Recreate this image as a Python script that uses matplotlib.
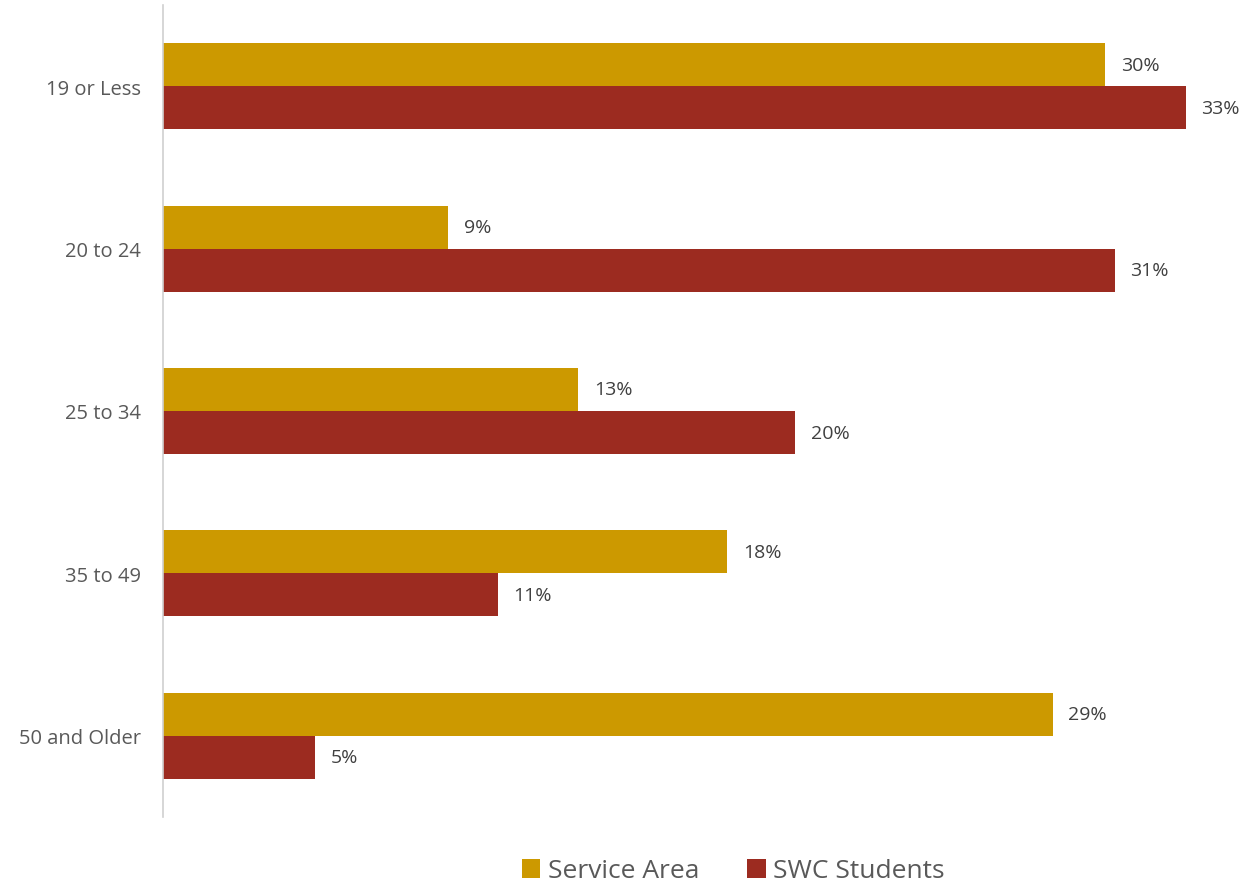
import numpy as np
import matplotlib
matplotlib.use('Agg')
from matplotlib import pyplot as plt

plt.rcParams['font.family'] = ['Open Sans', 'DejaVu Sans']

categories = ['19 or Less', '20 to 24', '25 to 34', '35 to 49', '50 and Older']
service_area = [30.4, 9.2, 13.4, 18.2, 28.7]
swc_students = [33.0, 30.7, 20.4, 10.8, 4.9]
series_names = ['Service Area', 'SWC Students']
colors = ['#CC9900', '#9C2B20']

fig = plt.figure(figsize=(12.43, 8.87), dpi=100)
ax = fig.add_axes([163/1243, 1-818/887, (1235-163)/1243, 812/887])

y = np.arange(len(categories))
h = 0.265
bars1 = ax.barh(y - h/2, service_area, height=h, color=colors[0], label=series_names[0])
bars2 = ax.barh(y + h/2, swc_students, height=h, color=colors[1], label=series_names[1])

for bars, vals in [(bars1, service_area), (bars2, swc_students)]:
    for b, v in zip(bars, vals):
        ax.text(v + 0.5, b.get_y() + b.get_height()/2, '%d%%' % round(v),
                va='center', ha='left', fontsize=14, color='#404040')

ax.set_ylim(4.5, -0.5)
ax.set_xlim(0, (1235-163)/31)
ax.set_yticks(y)
ax.set_yticklabels(categories, fontsize=14.5, color='#595959')
ax.tick_params(axis='y', length=0, pad=16)
ax.set_xticks([])
for s in ['top', 'right', 'bottom']:
    ax.spines[s].set_visible(False)
ax.spines['left'].set_color('#d0d0d0')
ax.spines['left'].set_linewidth(1.2)

leg = fig.legend(loc='center', bbox_to_anchor=(0.59, 1-872/887), ncol=2, frameon=False,
                 fontsize=19, handlelength=0.7, handleheight=0.7, handletextpad=0.3,
                 columnspacing=1.8, borderpad=0.1)
for t in leg.get_texts():
    t.set_color('#595959')

fig.savefig('out.png', dpi=100)
